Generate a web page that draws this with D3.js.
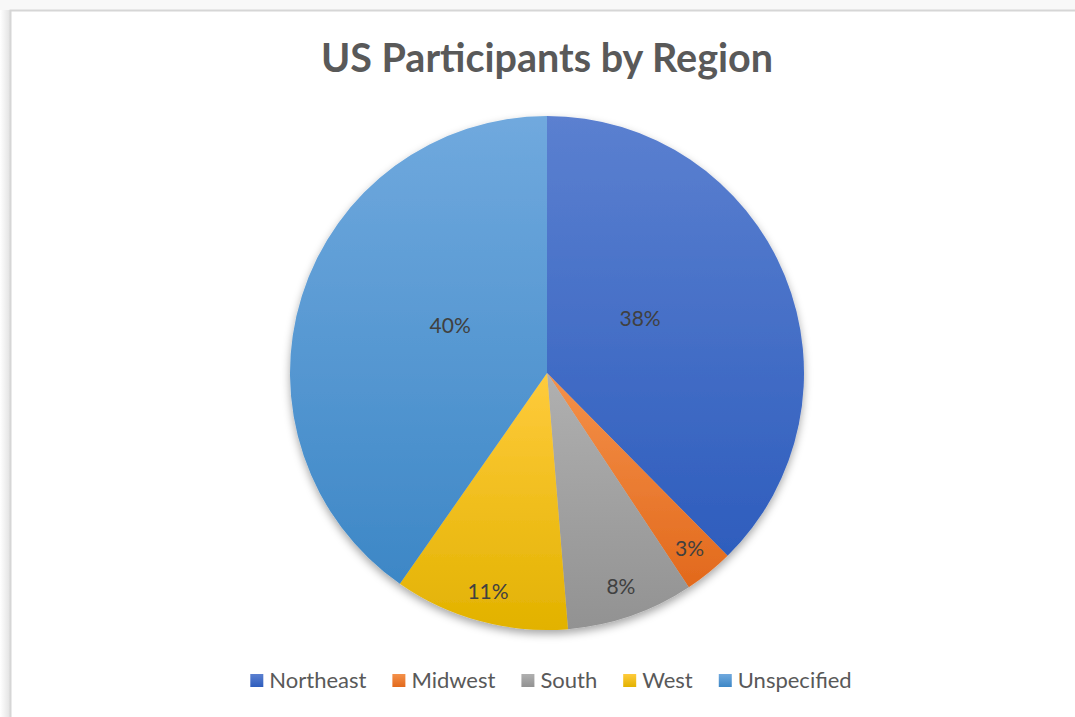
<!DOCTYPE html>
<html>
<head>
<meta charset="utf-8">
<script src="https://cdn.jsdelivr.net/npm/d3@7"></script>
<style>
  html, body { margin: 0; padding: 0; background: #fff; }
  svg { display: block; }
</style>
</head>
<body>
<div id="chart"></div>
<script>
// Chart data
var regions = ['Northeast', 'Midwest', 'South', 'West', 'Unspecified'];
var shares = [37.6, 3.1, 8.0, 11.0, 40.3];
var lightColors = ['#5b80d0', '#f4914a', '#b0b0b0', '#ffcb3c', '#70a9de'];
var darkColors = ['#2e5dbd', '#e2691c', '#929292', '#e2b200', '#3d87c6'];
var title = 'US Participants by Region';

var width = 1075;
var height = 717;
var cx = 547;
var cy = 373;
var radius = 257;

var svg = d3.select('#chart')
  .append('svg')
  .attr('width', width)
  .attr('height', height);

var defs = svg.append('defs');

// Gradients, light at the top and darker at the bottom
regions.forEach(function (r, i) {
  var grad = defs.append('linearGradient')
    .attr('id', 'grad' + i)
    .attr('x1', 0).attr('y1', 0)
    .attr('x2', 0).attr('y2', 1);
  grad.append('stop').attr('offset', '0%').attr('stop-color', lightColors[i]);
  grad.append('stop').attr('offset', '100%').attr('stop-color', darkColors[i]);
});

var shadow = defs.append('filter')
  .attr('id', 'shadow')
  .attr('x', '-20%').attr('y', '-20%')
  .attr('width', '140%').attr('height', '140%');
shadow.append('feDropShadow')
  .attr('dx', 0).attr('dy', 4)
  .attr('stdDeviation', 4)
  .attr('flood-color', '#000')
  .attr('flood-opacity', 0.35);

var edge = defs.append('linearGradient')
  .attr('id', 'edgeShadow')
  .attr('x1', 0).attr('x2', 1).attr('y1', 0).attr('y2', 0);
edge.append('stop').attr('offset', '0%').attr('stop-color', '#fff');
edge.append('stop').attr('offset', '100%').attr('stop-color', '#e2e2e2');

// Frame around the chart area
svg.append('rect')
  .attr('x', 0).attr('y', 0)
  .attr('width', width).attr('height', 10)
  .attr('fill', '#f8f8f8');
svg.append('rect')
  .attr('x', 0).attr('y', 10)
  .attr('width', 10).attr('height', height)
  .attr('fill', 'url(#edgeShadow)');
svg.append('rect')
  .attr('x', 10.5).attr('y', 10.5)
  .attr('width', width + 20).attr('height', height + 20)
  .attr('fill', '#fff')
  .attr('stroke', '#d6d6d6')
  .attr('stroke-width', 2);

// Title
svg.append('text')
  .attr('x', cx)
  .attr('y', 72)
  .attr('text-anchor', 'middle')
  .attr('font-family', 'Lato, "Open Sans", sans-serif')
  .attr('font-weight', 'bold')
  .attr('font-size', 39.5)
  .attr('fill', '#595959')
  .text(title);

// Pie
var data = regions.map(function (r, i) {
  return { label: r, value: shares[i], index: i };
});
var total = d3.sum(shares);

var arcs = d3.pie()
  .sort(null)
  .value(function (d) { return d.value; })(data);

var arc = d3.arc()
  .innerRadius(0)
  .outerRadius(radius);

var g = svg.append('g')
  .attr('transform', 'translate(' + cx + ',' + cy + ')');

g.append('g')
  .attr('filter', 'url(#shadow)')
  .selectAll('path')
  .data(arcs)
  .enter()
  .append('path')
  .attr('d', arc)
  .attr('fill', function (d) { return 'url(#grad' + d.data.index + ')'; });

// Labels: big slices sit inside, pulled a little toward the top;
// small slices sit near the rim
function labelPos(d) {
  var mid = (d.startAngle + d.endAngle) / 2;
  var big = d.endAngle - d.startAngle > Math.PI / 2;
  var r = big ? radius * 0.42 : radius * 0.88;
  if (big) {
    mid = mid < Math.PI ? mid * 0.88 : 2 * Math.PI - (2 * Math.PI - mid) * 0.88;
  }
  return [Math.sin(mid) * r, -Math.cos(mid) * r];
}

g.selectAll('.label')
  .data(arcs)
  .enter()
  .append('text')
  .attr('class', 'label')
  .attr('transform', function (d) {
    var p = labelPos(d);
    return 'translate(' + p[0] + ',' + p[1] + ')';
  })
  .attr('dy', '0.35em')
  .attr('text-anchor', 'middle')
  .attr('font-family', 'Lato, "Open Sans", sans-serif')
  .attr('font-size', 21)
  .attr('fill', '#404040')
  .text(function (d) { return d3.format('.0%')(d.data.value / total); });

// Legend
var legend = svg.append('g');
var items = legend.selectAll('.item')
  .data(data)
  .enter()
  .append('g')
  .attr('class', 'item');

items.append('rect')
  .attr('width', 13)
  .attr('height', 13)
  .attr('y', -14)
  .attr('fill', function (d) { return 'url(#grad' + d.index + ')'; });

items.append('text')
  .attr('x', 19)
  .attr('y', 0)
  .attr('font-family', 'Lato, "Open Sans", sans-serif')
  .attr('font-size', 22)
  .attr('fill', '#595959')
  .text(function (d) { return d.label; });

var offset = 0;
var gap = 26;
items.each(function () {
  var item = d3.select(this);
  var w = 19 + item.select('text').node().getComputedTextLength();
  item.attr('transform', 'translate(' + offset + ',0)');
  offset += w + gap;
});
offset -= gap;
legend.attr('transform', 'translate(' + (551 - offset / 2) + ',688)');
</script>
</body>
</html>
